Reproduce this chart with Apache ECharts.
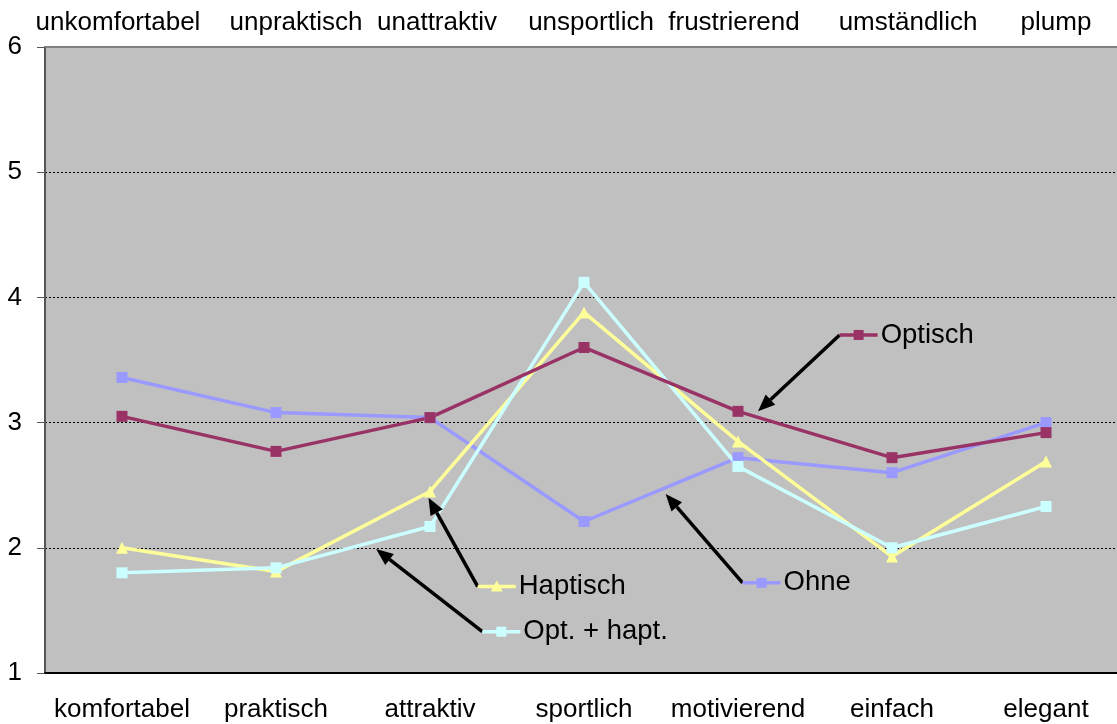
<!DOCTYPE html>
<html lang="de">
<head>
    <meta charset="UTF-8">
    <title>Semantisches Differential</title>
    <style>
        html, body { margin: 0; padding: 0; background: #fff; }
        #chart { width: 1117px; height: 724px; }
    </style>
</head>
<body>
    <div id="chart"></div>
    <script src="https://cdn.jsdelivr.net/npm/echarts@6/dist/echarts.min.js"></script>
    <script type="text/javascript">
        // Begriffspaare: unten positiv, oben negativ
        var catsBottom = ['komfortabel', 'praktisch', 'attraktiv', 'sportlich', 'motivierend', 'einfach', 'elegant'];
        var catsTop = ['unkomfortabel', 'unpraktisch', 'unattraktiv', 'unsportlich', 'frustrierend', 'umständlich', 'plump'];
        var yTicks = [1, 2, 3, 4, 5, 6];

        // Mittelwerte je Gruppe
        var ohne = [3.36, 3.08, 3.04, 2.21, 2.72, 2.60, 3.00];
        var haptisch = [2.00, 1.81, 2.45, 3.88, 2.85, 1.93, 2.69];
        var optHapt = [1.80, 1.84, 2.17, 4.12, 2.65, 2.00, 2.33];
        var optisch = [3.05, 2.77, 3.04, 3.60, 3.09, 2.72, 2.92];

        // Beschriftungen mit Pfeil (Datenkoordinaten: Kategorie-Index, Wert)
        var noteNames = ['Optisch', 'Ohne', 'Haptisch', 'Opt. + hapt.'];
        var noteTail = [[4.66, 3.70], [4.03, 1.72], [2.31, 1.69], [2.34, 1.33]];
        var noteTip = [[4.13, 3.09], [3.53, 2.43], [1.99, 2.40], [1.65, 1.99]];

        // kleine Verschiebung der oberen Beschriftungen (px)
        var topShift = [-4, 20, 7, 7, -4, 16, 10];

        var FONT = "'Liberation Sans', Arial, sans-serif";
        var seriesDefs = [
            {name: 'Ohne', data: ohne, color: '#9999FF', symbol: 'rect', size: 11},
            {name: 'Haptisch', data: haptisch, color: '#FFFF99', symbol: 'triangle', size: 12},
            {name: 'Opt. + hapt.', data: optHapt, color: '#CCFFFF', symbol: 'rect', size: 11},
            {name: 'Optisch', data: optisch, color: '#993366', symbol: 'rect', size: 11}
        ];

        var chart = echarts.init(document.getElementById('chart'));

        var topData = catsTop.map(function (c, i) {
            var s = topShift[i];
            return {
                value: c,
                textStyle: {padding: s > 0 ? [0, 0, 0, 2 * s] : [0, -2 * s, 0, 0]}
            };
        });

        chart.setOption({
            animation: false,
            grid: {
                left: 45, top: 47, width: 1078, height: 626,
                show: true, backgroundColor: '#C0C0C0', borderWidth: 0,
                outerBoundsMode: 'none', containLabel: false
            },
            xAxis: [
                {
                    type: 'category', data: catsBottom, position: 'bottom',
                    axisLine: {onZero: false, lineStyle: {color: '#000', width: 2}},
                    axisTick: {length: 7, lineStyle: {color: '#000', width: 1}},
                    axisLabel: {interval: 0, color: '#000', fontSize: 26, fontFamily: FONT, margin: 24}
                },
                {
                    type: 'category', data: topData, position: 'top',
                    axisLine: {onZero: false, lineStyle: {color: '#808080', width: 2}},
                    axisTick: {show: false},
                    axisLabel: {interval: 0, color: '#000', fontSize: 26, fontFamily: FONT, margin: 11}
                },
                {
                    // nur fuer die nach innen zeigenden Striche an den Kategorien
                    type: 'category', data: catsBottom, position: 'bottom',
                    axisLine: {show: false, onZero: false},
                    axisTick: {alignWithLabel: true, inside: true, length: 7, lineStyle: {color: '#000', width: 1}},
                    axisLabel: {show: false}
                },
                {
                    // unsichtbare Wertachse fuer die Beschriftungen
                    type: 'value', min: -0.5, max: 6.5, show: false
                }
            ],
            yAxis: {
                type: 'value', min: 1, max: 6, interval: 1,
                axisLine: {show: true, onZero: false, lineStyle: {color: '#555', width: 2}},
                axisTick: {show: true, length: 8, lineStyle: {color: '#555', width: 1}},
                axisLabel: {
                    color: '#000', fontSize: 26, fontFamily: FONT, margin: 23,
                    formatter: function (v) { return yTicks.indexOf(v) >= 0 ? String(v) : ''; }
                },
                splitLine: {
                    show: true, showMinLine: false, showMaxLine: false,
                    lineStyle: {color: '#000', type: [2, 2], width: 1}
                }
            },
            series: seriesDefs.map(function (d) {
                return {
                    name: d.name, type: 'line', data: d.data,
                    symbol: d.symbol, symbolSize: d.size,
                    lineStyle: {color: d.color, width: 3.5},
                    itemStyle: {color: d.color},
                    emphasis: {disabled: true}
                };
            })
        });

        function toPx(p) {
            return chart.convertToPixel({xAxisIndex: 3, yAxisIndex: 0}, p);
        }

        var els = [];
        noteNames.forEach(function (name, i) {
            var s = seriesDefs.filter(function (d) { return d.name === name; })[0];
            var a = toPx(noteTail[i]);
            var b = toPx(noteTip[i]);
            var ang = Math.atan2(b[1] - a[1], b[0] - a[0]);
            var hl = 17, hw = 7;
            var base = [b[0] - hl * Math.cos(ang), b[1] - hl * Math.sin(ang)];
            els.push({type: 'line', z: 100, shape: {x1: a[0], y1: a[1], x2: base[0], y2: base[1]},
                style: {stroke: '#000', lineWidth: 3.5}});
            els.push({type: 'polygon', z: 100, shape: {points: [
                b,
                [base[0] + hw * Math.sin(ang), base[1] - hw * Math.cos(ang)],
                [base[0] - hw * Math.sin(ang), base[1] + hw * Math.cos(ang)]
            ]}, style: {fill: '#000'}});
            // Legendenstrich
            els.push({type: 'line', z: 100, shape: {x1: a[0], y1: a[1], x2: a[0] + 38, y2: a[1]},
                style: {stroke: s.color, lineWidth: 3.5}});
            var cx = a[0] + 19, cy = a[1];
            if (s.symbol === 'triangle') {
                els.push({type: 'polygon', z: 101, shape: {points: [[cx, cy - 6], [cx + 6, cy + 5], [cx - 6, cy + 5]]},
                    style: {fill: s.color}});
            } else {
                els.push({type: 'rect', z: 101, shape: {x: cx - 5, y: cy - 5, width: 10, height: 10},
                    style: {fill: s.color}});
            }
            els.push({type: 'text', z: 101, x: a[0] + 41, y: a[1],
                style: {text: name, fill: '#000', font: '27.5px ' + FONT, align: 'left', verticalAlign: 'middle'}});
        });
        chart.setOption({graphic: {elements: els}});
    </script>
</body>
</html>
